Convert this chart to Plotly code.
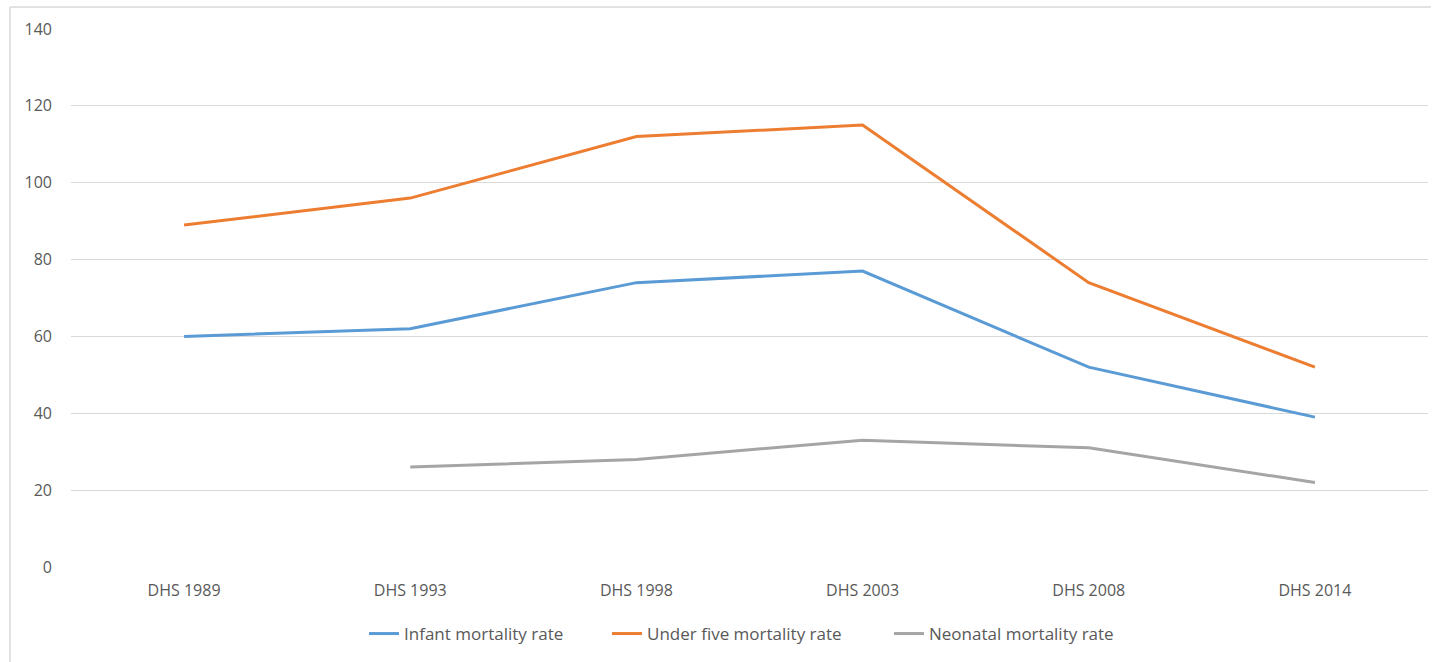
import plotly.graph_objects as go

categories = ["DHS 1989", "DHS 1993", "DHS 1998", "DHS 2003", "DHS 2008", "DHS 2014"]
infant = [60, 62, 74, 77, 52, 39]
under_five = [89, 96, 112, 115, 74, 52]
neonatal = [None, 26, 28, 33, 31, 22]
y_ticks = [0, 20, 40, 60, 80, 100, 120, 140]

series = [
    ("Infant mortality rate", infant, "#5B9BD5", "legend"),
    ("Under five mortality rate", under_five, "#ED7D31", "legend2"),
    ("Neonatal mortality rate", neonatal, "#A5A5A5", "legend3"),
]

W, H = 1432, 662
L, R, T, B = 71, 4, 29, 95
pw, ph = W - L - R, H - T - B


def px_x(p):
    return (p - L) / pw


def px_y(p):
    return (H - B - p) / ph


fig = go.Figure()
for name, vals, color, leg in series:
    fig.add_trace(go.Scatter(
        x=categories, y=vals, name=name, mode="lines",
        line=dict(color=color, width=3), connectgaps=False, legend=leg,
    ))

legend_font = dict(family="Open Sans, sans-serif", size=17, color="#595959")
legend_common = dict(
    orientation="h", xanchor="left", yanchor="middle", y=px_y(634),
    font=legend_font, bgcolor="rgba(0,0,0,0)", borderwidth=0,
)

fig.update_layout(
    width=W, height=H,
    margin=dict(l=L, r=R, t=T, b=B),
    paper_bgcolor="white", plot_bgcolor="white",
    font=dict(family="Open Sans, sans-serif", size=16, color="#595959"),
    showlegend=True,
    legend=dict(x=px_x(364), **legend_common),
    legend2=dict(x=px_x(607), **legend_common),
    legend3=dict(x=px_x(889), **legend_common),
    xaxis=dict(
        type="category", range=[-0.5, 5.5], showgrid=False, zeroline=False,
        showline=False, ticks="", ticklabelstandoff=12,
        tickfont=dict(size=16, color="#595959"),
    ),
    yaxis=dict(
        range=[0, 140], tickvals=y_ticks, showgrid=True, gridcolor="#D9D9D9",
        gridwidth=1, zeroline=False, showline=False, ticks="",
        ticklabelstandoff=18, tickfont=dict(size=16, color="#595959"),
    ),
    shapes=[
        dict(type="line", xref="paper", yref="paper", x0=px_x(10), x1=px_x(1431),
             y0=px_y(7), y1=px_y(7), line=dict(color="#D9D9D9", width=1.5)),
        dict(type="line", xref="paper", yref="paper", x0=px_x(10), x1=px_x(10),
             y0=px_y(7), y1=px_y(662), line=dict(color="#D9D9D9", width=1.5)),
    ],
)

fig.write_html("out.html", config={"displayModeBar": False})
